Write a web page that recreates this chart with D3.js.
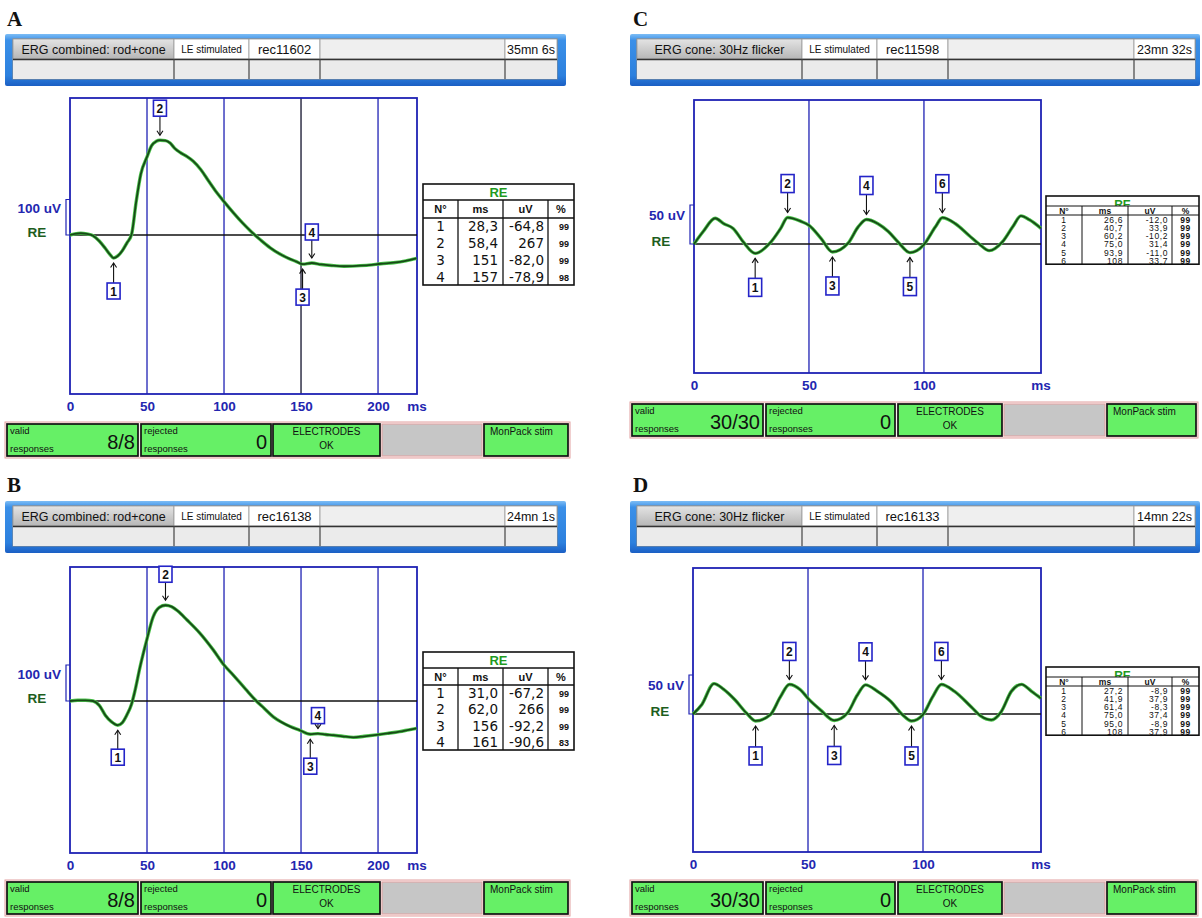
<!DOCTYPE html>
<html>
<head>
<meta charset="utf-8">
<title>ERG recordings</title>
<script src="https://cdn.jsdelivr.net/npm/d3@7"></script>
<style>
  html, body { margin: 0; padding: 0; background: #ffffff; }
  svg { display: block; }
  text { font-family: "Liberation Sans", Arial, sans-serif; }
</style>
</head>
<body>
<svg id="fig" width="1202" height="918"></svg>
<script>
// ---------- recording info ----------
const panelLetters   = ["A", "B", "C", "D"];
const protocolNames  = ["ERG combined: rod+cone", "ERG combined: rod+cone", "ERG cone: 30Hz flicker", "ERG cone: 30Hz flicker"];
const stimulusSides  = ["LE stimulated", "LE stimulated", "LE stimulated", "LE stimulated"];
const recordIds      = ["rec11602", "rec16138", "rec11598", "rec16133"];
const elapsedTimes   = ["35mn 6s", "24mn 1s", "23mn 32s", "14mn 22s"];
const validCounts    = ["8/8", "8/8", "30/30", "30/30"];
const rejectedCounts = ["0", "0", "0", "0"];
const electrodeState = ["ELECTRODES", "OK"];
const stimulatorName = "MonPack stim";
const channelName    = "RE";
const scaleBarUV     = [100, 100, 50, 50];
const tableHeaders   = ["N°", "ms", "uV", "%"];
const ticksRodCone   = [0, 50, 100, 150, 200];
const ticksFlicker   = [0, 50, 100];
const timeUnit       = "ms";
const sweepMs        = [225.3, 225.3, 150.9, 151.3];

// ---------- waveforms: [time ms, amplitude uV] ----------
const traceA = [[0,0],[3,3],[7,5],[11,3],[15,-2],[19,-17],[23,-38],[26,-55],[28.3,-64.8],[31,-59],[34,-44],[37,-22],[40,2],[43,95],[46,172],[50,220],[53,252],[56,264],[58.4,267],[62,266],[65,259],[68,244],[72,231],[76,221],[80,208],[85,184],[90,152],[95,121],[100,94],[106,63],[112,34],[118,8],[124,-15],[130,-36],[136,-53],[142,-66],[147,-75],[151,-82],[157,-78.9],[163,-83],[170,-86],[178,-88],[186,-87],[194,-85],[202,-81],[210,-78],[218,-73],[225,-66]];
const traceB = [[0,0],[5,2],[10,2],[15,0],[19,-12],[23,-40],[27,-58],[31,-67.2],[34,-60],[37,-38],[40,-8],[42,25],[45.5,95],[49.8,169],[54,234],[58,260],[62,266],[66,262],[70,250],[76,225],[84,190],[93,142],[100,100],[106,72],[114,33],[121,0],[126,-20],[132,-44],[137,-58],[143,-71],[149,-81],[156,-92.2],[161,-90.6],[166,-93],[171,-95],[177,-98],[184,-101],[191,-98],[199,-94],[206,-90],[214,-85],[220,-80],[225,-76]];
const traceC = [[0,0],[4,16],[9.2,33],[13,26],[17,20],[21.6,2],[26.6,-12],[33,1],[37.7,20],[40.7,33.9],[46.5,29],[50,24],[55.3,7],[60.2,-10.2],[67,1],[71.4,22],[75,31.4],[80,26],[84.5,16],[88.9,2],[93.9,-11],[99.9,-1],[105,22],[108,33.7],[113.7,26],[119.6,11],[124,0],[128.4,-8.5],[134.2,3],[138.6,22],[142.2,36],[145.9,31],[150.9,20]];
const traceD = [[0,0],[3.8,12],[9.1,39],[13.2,32],[18.3,18],[23.3,1],[27.2,-8.9],[33.6,-1],[38,22],[41.9,37.9],[46.7,31],[50.3,19],[55.5,5],[61.4,-8.3],[67.1,1],[71.4,24],[75,37.4],[80.2,29],[86,16],[91.1,-1],[95,-8.9],[99.9,-1],[104.2,22],[108,37.9],[113.7,29],[121,9],[125.3,-3],[129.7,-7.6],[134,3],[138.4,29],[142.8,38],[147.2,29],[151.3,20]];

// ---------- measured components ----------
const peakMsA = [28.3, 58.4, 151, 157];
const peakUvA = [-64.8, 267, -82.0, -78.9];
const peakPctA = [99, 99, 99, 98];
const peakMsB = [31.0, 62.0, 156, 161];
const peakUvB = [-67.2, 266, -92.2, -90.6];
const peakPctB = [99, 99, 99, 83];
const peakMsC = [26.6, 40.7, 60.2, 75.0, 93.9, 108];
const peakUvC = [-12.0, 33.9, -10.2, 31.4, -11.0, 33.7];
const peakPctC = [99, 99, 99, 99, 99, 99];
const peakMsD = [27.2, 41.9, 61.4, 75.0, 95.0, 108];
const peakUvD = [-8.9, 37.9, -8.3, 37.4, -8.9, 37.9];
const peakPctD = [99, 99, 99, 99, 99, 99];

// ---------- page layout ----------
const layouts = [
  { letter: [7, 26],
    header: { x0: 5, x1: 566, y0: 34, y1: 86, cells: [13, 174, 249, 320, 505, 557] },
    plot: { x0: 70, x1: 417, y0: 98, y1: 394, base: 235, k: 0.355 }, cursorMs: 150,
    table: { cols: [423, 458, 503, 548, 574], top: 184, hTitle: 16, hHead: 18, hRow: 16.75, small: false },
    bar: { y: 424, h: 32, boxes: [[7, 138], [141, 271], [273, 380], [382, 482], [484, 568]] },
    lift: [33, 32, 33, 31], box: [13, 16] },
  { letter: [7, 492],
    header: { x0: 5, x1: 566, y0: 501, y1: 553, cells: [13, 174, 249, 320, 505, 557] },
    plot: { x0: 70, x1: 417, y0: 567, y1: 853, base: 701, k: 0.36 }, cursorMs: null,
    table: { cols: [423, 458, 503, 548, 574], top: 652, hTitle: 16, hHead: 17, hRow: 16.25, small: false },
    bar: { y: 882, h: 32, boxes: [[7, 138], [141, 271], [273, 380], [382, 482], [484, 568]] },
    lift: [32, 31, 32, 18], box: [13, 16] },
  { letter: [633, 26],
    header: { x0: 630, x1: 1200, y0: 34, y1: 86, cells: [637, 802, 877, 948, 1134, 1195] },
    plot: { x0: 694, x1: 1041, y0: 100, y1: 373, base: 244, k: 0.78 }, cursorMs: null,
    table: { cols: [1046, 1082, 1128, 1172, 1199], top: 196, hTitle: 10, hHead: 9, hRow: 8.2, small: true },
    bar: { y: 404, h: 32, boxes: [[632, 763], [766, 895], [898, 1002], [1004, 1105], [1107, 1196]] },
    lift: [34, 34, 34, 34, 34, 34], box: [13, 18] },
  { letter: [633, 492],
    header: { x0: 630, x1: 1200, y0: 501, y1: 553, cells: [637, 802, 877, 948, 1134, 1195] },
    plot: { x0: 693, x1: 1041, y0: 568, y1: 852, base: 714, k: 0.78 }, cursorMs: null,
    table: { cols: [1046, 1082, 1128, 1172, 1199], top: 667, hTitle: 10, hHead: 9, hRow: 8.2, small: true },
    bar: { y: 882, h: 32, boxes: [[632, 763], [766, 895], [898, 1002], [1004, 1105], [1107, 1196]] },
    lift: [35, 33, 35, 33, 35, 33], box: [13, 18] }
];

const traces = [traceA, traceB, traceC, traceD];
const peakMs = [peakMsA, peakMsB, peakMsC, peakMsD];
const peakUv = [peakUvA, peakUvB, peakUvC, peakUvD];
const peakPct = [peakPctA, peakPctB, peakPctC, peakPctD];
const timeTicks = [ticksRodCone, ticksRodCone, ticksFlicker, ticksFlicker];

// ---------- styling ----------
const BLUE = "#1f22b4";
const TEXT_BLUE = "#2326b0";
const DARK_GREEN = "#1d5e1d";
const TITLE_GREEN = "#1f9a1f";
const STATUS_GREEN = "#66f066";

const locale = d3.formatLocale({ decimal: ",", thousands: ".", grouping: [3], currency: ["", ""], minus: "-" });
const f1 = locale.format(".1f");
const fmtVal = v => Math.abs(v) >= 100 ? String(Math.round(v)) : f1(v);

const svg = d3.select("#fig");
const defs = svg.append("defs");
const gBlue = defs.append("linearGradient").attr("id", "hdrBlue").attr("x1", 0).attr("x2", 0).attr("y1", 0).attr("y2", 1);
[["0%", "#7dbdf5"], ["12%", "#3b90e8"], ["80%", "#2c80de"], ["100%", "#1b5fc4"]].forEach(([o, c]) => gBlue.append("stop").attr("offset", o).attr("stop-color", c));
const gGrey = defs.append("linearGradient").attr("id", "cellGrey").attr("x1", 0).attr("x2", 0).attr("y1", 0).attr("y2", 1);
[["0%", "#e4e4e4"], ["100%", "#b6b6b6"]].forEach(([o, c]) => gGrey.append("stop").attr("offset", o).attr("stop-color", c));

function drawHeader(g, H, i) {
  g.append("rect").attr("x", H.x0).attr("y", H.y0).attr("width", H.x1 - H.x0).attr("height", H.y1 - H.y0)
    .attr("fill", "url(#hdrBlue)").attr("rx", 2);
  const c = H.cells;
  const iy0 = H.y0 + 5, iy1 = H.y1 - 7, ym = iy0 + 20;
  g.append("rect").attr("x", c[0]).attr("y", iy0).attr("width", c[5] - c[0]).attr("height", iy1 - iy0)
    .attr("fill", "#ededed").attr("stroke", "#8a8a8a");
  const row1Fill = ["url(#cellGrey)", "#ffffff", "#ffffff", "#efefef", "#ffffff"];
  const row1Text = [protocolNames[i], stimulusSides[i], recordIds[i], "", elapsedTimes[i]];
  const row1Size = [12.5, 10, 13, 12, 12.5];
  for (let k = 0; k < 5; k++) {
    g.append("rect").attr("x", c[k]).attr("y", iy0).attr("width", c[k + 1] - c[k]).attr("height", ym - iy0)
      .attr("fill", row1Fill[k]).attr("stroke", "#9a9a9a").attr("stroke-width", 0.8);
    g.append("rect").attr("x", c[k]).attr("y", ym + 1).attr("width", c[k + 1] - c[k]).attr("height", iy1 - ym - 1)
      .attr("fill", "#ebebeb");
    if (row1Text[k]) {
      g.append("text").attr("x", (c[k] + c[k + 1]) / 2).attr("y", (iy0 + ym) / 2 + row1Size[k] * 0.36)
        .attr("text-anchor", "middle").style("font-size", row1Size[k] + "px").attr("fill", "#111")
        .text(row1Text[k]);
    }
  }
  g.append("line").attr("x1", c[0]).attr("x2", c[5]).attr("y1", ym + 0.5).attr("y2", ym + 0.5)
    .attr("stroke", "#333").attr("stroke-width", 1.4);
  for (let k = 1; k < 5; k++) {
    g.append("line").attr("x1", c[k]).attr("x2", c[k]).attr("y1", ym).attr("y2", iy1)
      .attr("stroke", "#444").attr("stroke-width", 1.2);
  }
}

function drawPlot(g, L, i) {
  const P = L.plot;
  const x = d3.scaleLinear().domain([0, sweepMs[i]]).range([P.x0, P.x1]);
  const y = d3.scaleLinear().domain([(P.base - P.y1) / P.k, (P.base - P.y0) / P.k]).range([P.y1, P.y0]);

  g.append("rect").attr("x", P.x0).attr("y", P.y0).attr("width", P.x1 - P.x0).attr("height", P.y1 - P.y0)
    .attr("fill", "#ffffff");

  // vertical grid at the time ticks
  g.selectAll(null).data(timeTicks[i].filter(t => t > 0)).join("line")
    .attr("x1", d => x(d)).attr("x2", d => x(d)).attr("y1", P.y0).attr("y2", P.y1)
    .attr("stroke", d => d === L.cursorMs ? "#10102a" : BLUE).attr("stroke-width", 1.3);

  g.append("rect").attr("x", P.x0).attr("y", P.y0).attr("width", P.x1 - P.x0).attr("height", P.y1 - P.y0)
    .attr("fill", "none").attr("stroke", BLUE).attr("stroke-width", 1.8);

  // time axis labels
  const axis = d3.axisBottom(x).tickValues(timeTicks[i]).tickSize(0).tickPadding(7.5).tickFormat(d3.format("d"));
  const ag = g.append("g").attr("transform", `translate(0,${P.y1})`).call(axis);
  ag.select(".domain").remove();
  ag.selectAll("text").attr("fill", TEXT_BLUE).style("font-size", "13.5px").style("font-weight", "bold")
    .style("font-family", "'Liberation Sans', Arial, sans-serif");
  g.append("text").attr("x", P.x1).attr("y", P.y1 + 17).attr("text-anchor", "middle")
    .attr("fill", TEXT_BLUE).style("font-size", "13.5px").style("font-weight", "bold").text(timeUnit);

  // amplitude scale bar and channel label
  const y0 = y(0), ys = y(scaleBarUV[i]);
  g.append("path").attr("d", `M${P.x0},${y0}H${P.x0 - 4}V${ys}H${P.x0}`)
    .attr("fill", "none").attr("stroke", BLUE).attr("stroke-width", 1.2);
  g.append("text").attr("x", P.x0 - 9).attr("y", (y0 + ys) / 2 - 4.5).attr("text-anchor", "end")
    .attr("fill", TEXT_BLUE).style("font-size", "13.5px").style("font-weight", "bold")
    .text(scaleBarUV[i] + " uV");
  g.append("text").attr("x", P.x0 - 33).attr("y", y0 + 1.5).attr("text-anchor", "middle")
    .attr("fill", DARK_GREEN).style("font-size", "13.5px").style("font-weight", "bold").text(channelName);

  // zero line
  g.append("line").attr("x1", P.x0).attr("x2", P.x1).attr("y1", y0).attr("y2", y0)
    .attr("stroke", "#111").attr("stroke-width", 1.7);

  // waveform
  const line = d3.line().x(d => x(d[0])).y(d => y(d[1])).curve(d3.curveMonotoneX);
  g.append("path").datum(traces[i]).attr("d", line).attr("fill", "none")
    .attr("stroke", "#4cc44c").attr("stroke-width", 3.4).attr("stroke-linejoin", "round");
  g.append("path").datum(traces[i]).attr("d", line).attr("fill", "none")
    .attr("stroke", "#174a17").attr("stroke-width", 1.8).attr("stroke-linejoin", "round");

  // component markers
  const [bw, bh] = L.box;
  peakMs[i].forEach((ms, j) => {
    const n = j + 1, above = n % 2 === 0;
    const px = x(ms), py = y(peakUv[i][j]);
    const cy = above ? py - L.lift[j] : py + L.lift[j];
    const from = above ? cy + bh / 2 : cy - bh / 2;
    const tip = above ? py - 5 : py + 5;
    const dir = above ? 1 : -1;
    g.append("line").attr("x1", px).attr("x2", px).attr("y1", from).attr("y2", tip)
      .attr("stroke", "#111").attr("stroke-width", 1.1);
    g.append("path").attr("d", `M${px - 3},${tip - dir * 4.5}L${px},${tip}L${px + 3},${tip - dir * 4.5}`)
      .attr("fill", "none").attr("stroke", "#111").attr("stroke-width", 1.1);
    g.append("rect").attr("x", px - bw / 2).attr("y", cy - bh / 2).attr("width", bw).attr("height", bh)
      .attr("fill", "#ffffff").attr("stroke", "#2424c8").attr("stroke-width", 1.6);
    g.append("text").attr("x", px).attr("y", cy + 4.5).attr("text-anchor", "middle")
      .attr("fill", "#111").style("font-size", "12px").style("font-weight", "bold").text(n);
  });
}

function drawTable(g, T, i) {
  const c = T.cols, n = peakMs[i].length;
  const yT = T.top, yH = yT + T.hTitle, yD = yH + T.hHead, yB = yD + T.hRow * n;
  const x0 = c[0], x1 = c[c.length - 1];
  g.append("rect").attr("x", x0).attr("y", yT).attr("width", x1 - x0).attr("height", yB - yT).attr("fill", "#ffffff");
  g.append("text").attr("x", (x0 + x1) / 2).attr("y", T.small ? yH + 2.5 : yT + 13)
    .attr("text-anchor", "middle").attr("fill", TITLE_GREEN)
    .style("font-size", T.small ? "12px" : "13px").style("font-weight", "bold").text(channelName);
  g.append("rect").attr("x", x0).attr("y", yH).attr("width", x1 - x0).attr("height", T.hHead).attr("fill", "#ffffff");

  // column headers
  tableHeaders.forEach((h, k) => {
    g.append("text").attr("x", (c[k] + c[k + 1]) / 2).attr("y", T.small ? yD - 1.2 : yH + T.hHead / 2 + 4)
      .attr("text-anchor", "middle").attr("fill", "#111")
      .style("font-size", T.small ? "8.5px" : "11px").style("font-weight", "bold").text(h);
  });

  // grid lines
  for (let k = 1; k < c.length - 1; k++) {
    g.append("line").attr("x1", c[k]).attr("x2", c[k]).attr("y1", yH).attr("y2", yB)
      .attr("stroke", "#111").attr("stroke-width", T.small ? 1 : 1.3);
  }
  [yH, yD].forEach(yy => g.append("line").attr("x1", x0).attr("x2", x1).attr("y1", yy).attr("y2", yy)
    .attr("stroke", "#111").attr("stroke-width", T.small ? 1 : 1.3));
  g.append("rect").attr("x", x0).attr("y", yT).attr("width", x1 - x0).attr("height", yB - yT)
    .attr("fill", "none").attr("stroke", "#111").attr("stroke-width", 1.6);

  // data rows
  const fs = T.small ? 8.5 : 13.5;
  const fam = T.small ? "'Liberation Sans', Arial, sans-serif" : "'DejaVu Sans', 'Liberation Sans', sans-serif";
  peakMs[i].forEach((ms, j) => {
    const yc = yD + T.hRow * (j + 0.5) + (T.small ? 3.6 : 5);
    const cells = [
      { t: String(j + 1), x: (c[0] + c[1]) / 2, a: "middle", s: fs },
      { t: fmtVal(ms), x: c[2] - 5, a: "end", s: fs },
      { t: fmtVal(peakUv[i][j]), x: c[3] - 4, a: "end", s: fs },
      { t: String(peakPct[i][j]), x: T.small ? (c[3] + c[4]) / 2 : c[4] - 5, a: T.small ? "middle" : "end", s: T.small ? 8.5 : 9 }
    ];
    cells.forEach((cl, k) => {
      g.append("text").attr("x", cl.x).attr("y", k === 3 && !T.small ? yc - 1 : yc)
        .attr("text-anchor", cl.a).attr("fill", "#111")
        .style("font-size", cl.s + "px").style("font-family", k === 3 ? "'Liberation Sans', Arial, sans-serif" : fam)
        .style("font-weight", k === 3 ? "bold" : "normal")
        .style("letter-spacing", T.small ? "0.6px" : "0px")
        .text(cl.t);
    });
  });
}

function drawStatusBar(g, B, i) {
  const bx = B.boxes, y = B.y, h = B.h;
  g.append("rect").attr("x", bx[0][0] - 2).attr("y", y - 2).attr("width", bx[4][1] - bx[0][0] + 4).attr("height", h + 4)
    .attr("fill", "#fbf0f0").attr("stroke", "#e2a0a0").attr("stroke-width", 1);
  bx.forEach(([a, b], k) => {
    g.append("rect").attr("x", a).attr("y", y).attr("width", b - a).attr("height", h)
      .attr("fill", k === 3 ? "#c6c6c6" : STATUS_GREEN)
      .attr("stroke", k === 3 ? "#e2a0a0" : "#111").attr("stroke-width", k === 3 ? 1 : 1.7);
  });
  const small = (xx, yy, t, anchor) => g.append("text").attr("x", xx).attr("y", yy)
    .attr("text-anchor", anchor || "start").attr("fill", "#111").style("font-size", "9.5px").text(t);
  const big = (xx, t) => g.append("text").attr("x", xx).attr("y", y + h - 7).attr("text-anchor", "end")
    .attr("fill", "#111").style("font-size", "20px").text(t);
  small(bx[0][0] + 3, y + 10, "valid");
  small(bx[0][0] + 3, y + h - 4, "responses");
  big(bx[0][1] - 3, validCounts[i]);
  small(bx[1][0] + 3, y + 10, "rejected");
  small(bx[1][0] + 3, y + h - 4, "responses");
  big(bx[1][1] - 4, rejectedCounts[i]);
  const mid = (bx[2][0] + bx[2][1]) / 2;
  small(mid, y + 11, electrodeState[0], "middle").style("font-size", "10px");
  small(mid, y + 25, electrodeState[1], "middle").style("font-size", "10px");
  small(bx[4][0] + 6, y + 11, stimulatorName).style("font-size", "10px");
}

panelLetters.forEach((letter, i) => {
  const L = layouts[i];
  const g = svg.append("g").attr("class", "panel panel-" + letter);
  g.append("text").attr("x", L.letter[0]).attr("y", L.letter[1])
    .style("font-family", "'Liberation Serif', 'Times New Roman', serif").style("font-weight", "bold")
    .style("font-size", "21px").attr("fill", "#111").text(letter);
  drawHeader(g, L.header, i);
  drawPlot(g, L, i);
  drawTable(g, L.table, i);
  drawStatusBar(g, L.bar, i);
});
</script>
</body>
</html>
